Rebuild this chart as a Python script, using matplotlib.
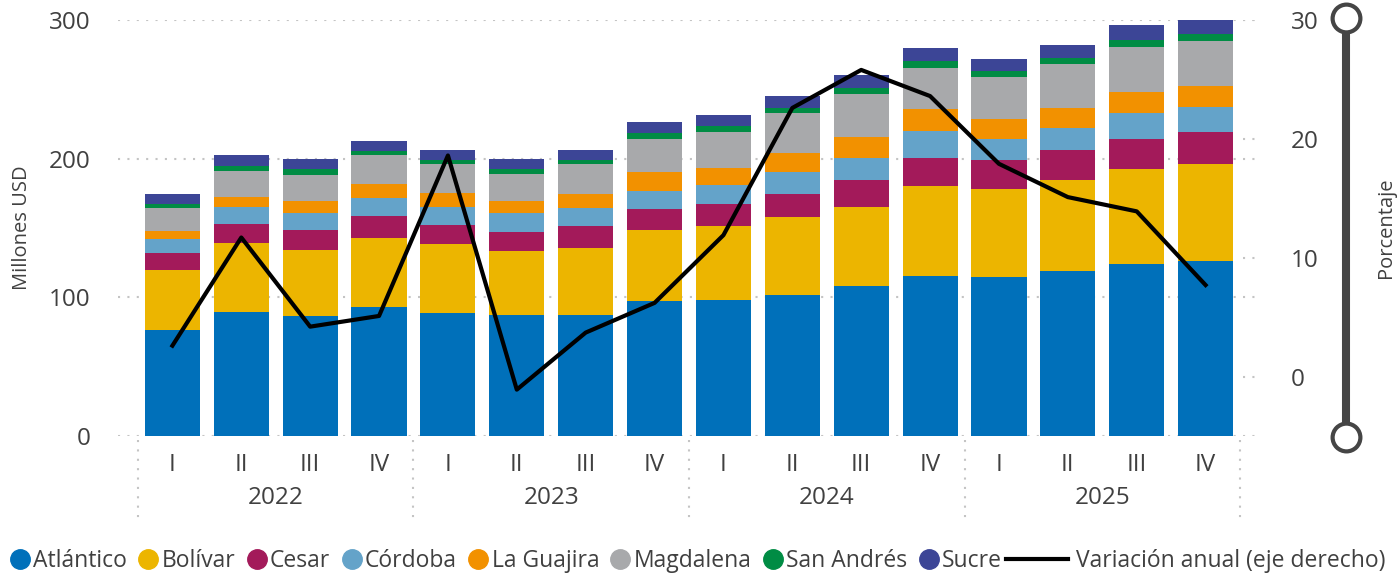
import matplotlib
matplotlib.use("Agg")
import matplotlib.pyplot as plt
import matplotlib.transforms as mtransforms
from matplotlib.lines import Line2D
import numpy as np

plt.rcParams['font.family'] = ['Open Sans', 'DejaVu Sans']

### Datos

years = ["2022", "2023", "2024", "2025"]
quarters = ["I", "II", "III", "IV"]

departamentos = ["Atlántico", "Bolívar", "Cesar", "Córdoba", "La Guajira",
                 "Magdalena", "San Andrés", "Sucre"]
colores = ["#0070BA", "#ECB500", "#A31A5A", "#64A3C9", "#F29100",
           "#A8A9AB", "#008C44", "#3C4596"]

# millones de USD por trimestre
atlantico = [76.6, 89.6, 86.7, 93.2, 88.9, 87.4, 87.4, 97.5,
             98.2, 101.9, 108.4, 115.6, 114.9, 119.2, 124.3, 126.4]
bolivar = [43.3, 49.8, 47.7, 49.8, 49.8, 46.2, 48.4, 51.3,
           53.5, 56.3, 57.0, 65.0, 63.5, 65.7, 67.9, 70.1]
cesar = [12.3, 13.7, 14.4, 15.9, 13.7, 13.8, 15.9, 15.2,
         15.9, 16.6, 19.5, 20.2, 20.3, 21.0, 22.3, 22.4]
cordoba = [10.1, 12.3, 11.8, 13.0, 13.0, 13.2, 13.0, 13.0,
           13.7, 15.9, 15.9, 19.5, 15.8, 15.9, 18.3, 18.3]
la_guajira = [5.8, 7.2, 8.7, 10.1, 9.6, 9.2, 10.1, 13.7,
              12.3, 13.7, 14.7, 15.4, 14.0, 14.4, 15.0, 14.9]
magdalena = [16.6, 18.8, 19.2, 20.3, 20.8, 19.5, 21.0, 23.8,
             25.3, 28.2, 30.8, 29.4, 30.1, 31.8, 32.5, 32.5]
san_andres = [2.9, 3.6, 3.7, 2.9, 2.9, 3.6, 2.9, 3.7,
              4.3, 3.6, 4.4, 5.1, 4.3, 4.3, 5.0, 5.1]
sucre = [7.2, 7.3, 7.2, 7.9, 7.9, 7.2, 7.9, 7.9,
         8.0, 8.7, 9.4, 9.4, 8.7, 9.4, 10.9, 10.8]

# variación anual [%] (eje derecho)
variacion = [2.6, 11.7, 4.2, 5.1, 18.6, -1.1, 3.7, 6.2,
             11.9, 22.6, 25.8, 23.6, 17.9, 15.1, 13.9, 7.7]

series = [atlantico, bolivar, cesar, cordoba, la_guajira, magdalena, san_andres, sucre]

### Gráfico

W, H = 1399, 578
fig = plt.figure(figsize=(W / 100, H / 100), dpi=100)
ax = fig.add_axes([118 / W, 1 - 436 / H, 1142 / W, 416 / H])

gris = "#404040"
gris_grid = "#C4C4C4"
punteado = (0, (1, 3.5))
fs_ticks = 17.5
fs_label = 14.5
fs_leyenda = 16.5

x = np.arange(len(atlantico))
bottom = np.zeros(len(x))
for nombre, vals, col in zip(departamentos, series, colores):
    ax.bar(x, vals, width=0.8, bottom=bottom, color=col, label=nombre, zorder=2)
    bottom += np.array(vals)

ax.set_xlim(-0.79, 15.79)
ax.set_ylim(0, 300)
ax.set_yticks([0, 100, 200, 300])
ax.grid(axis="y", color=gris_grid, linestyle=punteado, linewidth=1.5)
ax.set_axisbelow(True)
for s in ax.spines.values():
    s.set_visible(False)

ax.set_xticks(x)
ax.set_xticklabels(quarters * len(years))
ax.tick_params(axis="x", length=0, pad=12, labelsize=fs_ticks, labelcolor=gris)
ax.tick_params(axis="y", length=0, pad=20, labelsize=fs_ticks, labelcolor=gris)
ax.text(-0.084, 0.5, "Millones USD", transform=ax.transAxes, rotation=90,
        ha="center", va="center", fontsize=fs_label, color=gris)

# años y separadores bajo el eje
trans = mtransforms.blended_transform_factory(ax.transData, ax.transAxes)
for i, yr in enumerate(years):
    ax.text(i * 4 + 1.5, -0.149, yr, transform=trans, ha="center", va="center",
            fontsize=fs_ticks, color=gris)
for i in range(len(years) + 1):
    ax.plot([i * 4 - 0.5, i * 4 - 0.5], [-0.01, -0.2], transform=trans,
            color=gris_grid, linestyle=punteado, linewidth=1.5, clip_on=False)

# eje derecho
ax2 = ax.twinx()
ax2.plot(x, variacion, color="black", linewidth=3, zorder=5,
         label="Variación anual (eje derecho)")
ax2.set_ylim(-5, 30)
ticks2 = [0, 10, 20, 30]
ax2.set_yticks(ticks2)
ax2.hlines(ticks2, 15.55, 15.79, color=gris_grid, linestyle=punteado, linewidth=1.5)
ax2.tick_params(axis="y", length=0, pad=22, labelsize=fs_ticks, labelcolor=gris)
for s in ax2.spines.values():
    s.set_visible(False)
ax2.text(1.110, 0.5, "Porcentaje", transform=ax2.transAxes, rotation=90,
         ha="center", va="center", fontsize=fs_label, color=gris)

# control deslizante a la derecha
xs = 1346 / W
y_top, y_bot = 1 - 18 / H, 1 - 437 / H
fig.add_artist(Line2D([xs, xs], [y_top, y_bot], color="#454545", linewidth=5.8,
                      transform=fig.transFigure))
fig.add_artist(Line2D([xs, xs], [y_top, y_bot], linestyle="none", marker="o",
                      markersize=20, markerfacecolor="white", markeredgecolor="#454545",
                      markeredgewidth=3, transform=fig.transFigure))

# leyenda
handles = [Line2D([], [], linestyle="none", marker="o", markersize=14,
                  markerfacecolor=c, markeredgecolor=c) for c in colores]
fig.legend(handles, departamentos, loc="center right", bbox_to_anchor=(1002 / W, 1 - 561 / H),
           ncol=8, frameon=False, fontsize=fs_leyenda, handlelength=0.9, handletextpad=0.13,
           columnspacing=0.48, labelcolor=gris, borderaxespad=0, borderpad=0)
fig.legend([Line2D([], [], color="black", linewidth=3)], ["Variación anual (eje derecho)"],
           loc="center left", bbox_to_anchor=(1006 / W, 1 - 561 / H), frameon=False,
           fontsize=fs_leyenda, handlelength=2.7, handletextpad=0.35, labelcolor=gris,
           borderaxespad=0, borderpad=0)

fig.savefig("out.png", dpi=100)
